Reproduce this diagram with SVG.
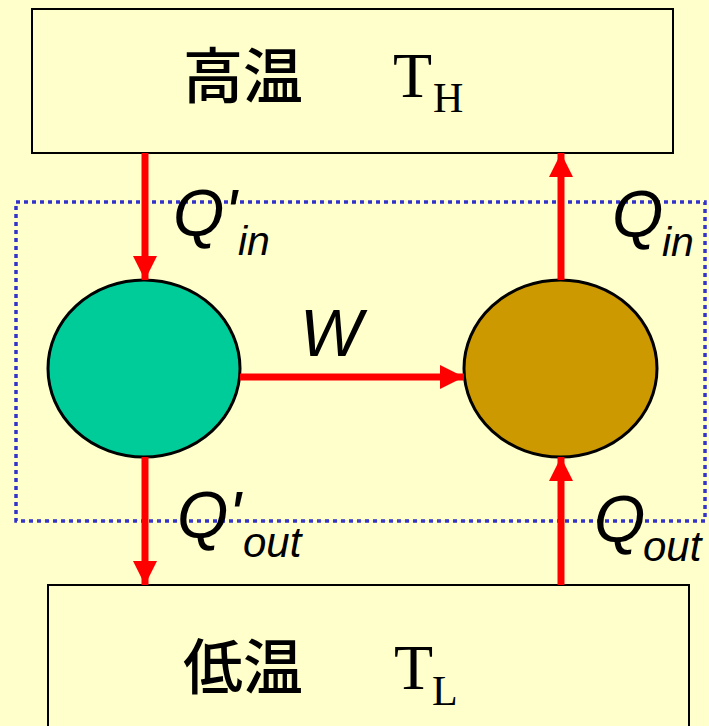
<svg xmlns="http://www.w3.org/2000/svg" width="709" height="726" viewBox="0 0 709 726">
<defs>
<marker id="ah" viewBox="0 0 24 24" refX="24" refY="12" markerWidth="24" markerHeight="24" markerUnits="userSpaceOnUse" orient="auto">
<path d="M0,0 L24,12 L0,24 Z" fill="#FF0000"/>
</marker>
<style>
.box{fill:#FFFFCC;stroke:#000;stroke-width:2}
.cjk{font-family:"Noto Sans CJK JP","Noto Sans CJK SC",sans-serif;font-size:60px;font-weight:500;fill:#000}
.tm{font-family:"Liberation Serif",serif;fill:#000}
.lbl{font-family:"Liberation Sans",Arial,sans-serif;font-style:italic;fill:#000}
.arr{stroke:#FF0000;stroke-width:7;fill:none}
.node{stroke:#000;stroke-width:3}
</style>
</defs>
<rect x="0" y="0" width="709" height="726" fill="#FFFFCC"/>
<g id="hot">
<rect class="box" x="32" y="9" width="641" height="144"/>
<text class="cjk" x="183" y="98">高温</text>
<text class="tm" x="393" y="97" font-size="64">T</text>
<text class="tm" x="433" y="112" font-size="42">H</text>
</g>
<g id="cold">
<rect class="box" x="48" y="585" width="641" height="150"/>
<text class="cjk" x="183" y="689">低温</text>
<text class="tm" x="394" y="689" font-size="64">T</text>
<text class="tm" x="432" y="705" font-size="42">L</text>
</g>
<g id="boundary">
<rect x="16" y="202" width="689" height="319" fill="none" stroke="#3333CC" stroke-width="3.5" stroke-dasharray="4,4"/>
</g>
<g id="engine">
<ellipse class="node" cx="144" cy="368.5" rx="96" ry="88.5" fill="#00CC99"/>
</g>
<g id="pump">
<ellipse class="node" cx="560.5" cy="368.5" rx="96.5" ry="88.5" fill="#CC9900"/>
</g>
<g id="connectors">
<line class="arr" x1="145" y1="153" x2="145" y2="280" marker-end="url(#ah)"/>
<line class="arr" x1="145" y1="457" x2="145" y2="585" marker-end="url(#ah)"/>
<line class="arr" x1="240" y1="377" x2="464" y2="377" marker-end="url(#ah)"/>
<line class="arr" x1="561" y1="280" x2="561" y2="153" marker-end="url(#ah)"/>
<line class="arr" x1="561" y1="585" x2="561" y2="457" marker-end="url(#ah)"/>
</g>
<g id="labels">
<text class="lbl" x="300" y="356" font-size="66">W</text>
<text class="lbl" x="173" y="236" font-size="66">Q'</text>
<text class="lbl" x="238" y="255" font-size="41">in</text>
<text class="lbl" x="612" y="237" font-size="66">Q</text>
<text class="lbl" x="662" y="256" font-size="41">in</text>
<text class="lbl" x="177" y="538" font-size="66">Q'</text>
<text class="lbl" x="243" y="557" font-size="42">out</text>
<text class="lbl" x="594" y="542" font-size="66">Q</text>
<text class="lbl" x="643" y="561" font-size="42">out</text>
</g>
</svg>
